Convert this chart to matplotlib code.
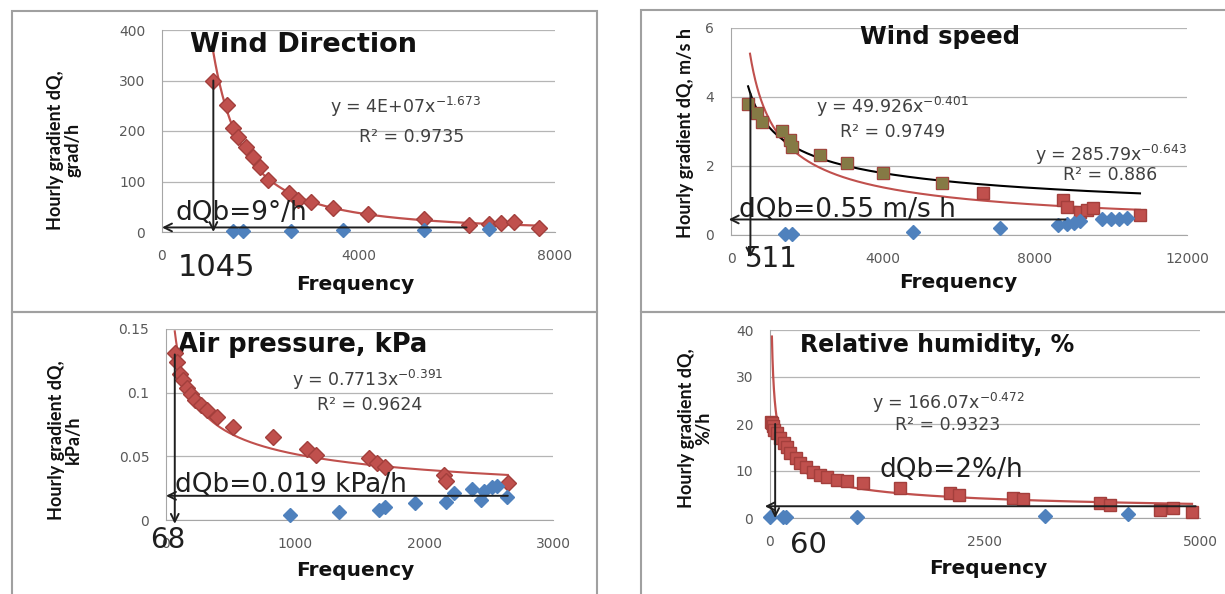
import matplotlib
matplotlib.use("Agg")
import matplotlib.pyplot as plt
from matplotlib.patches import Rectangle
import numpy as np

W, H = 1225, 594

# Wind direction
wd_red_x = [1045, 1330, 1453, 1555, 1700, 1862, 2005, 2150, 2580, 2760, 3030, 3480, 4190, 5340, 6240, 6650, 6910, 7160, 7670]
wd_red_y = [300, 252, 206, 188, 168, 148, 129, 103, 77, 64, 60, 48, 35, 25, 13, 16, 18, 20, 7]
wd_blue_x = [1453, 1657, 2619, 3683, 5340, 6650]
wd_blue_y = [2, 2, 2, 3, 4, 5]
wd_fit = (4e7, -1.673)

# Wind speed
ws_olive_x = [450, 684, 816, 1342, 1553, 1605, 2342, 3053, 4000, 5553]
ws_olive_y = [3.80, 3.53, 3.28, 3.00, 2.75, 2.55, 2.32, 2.09, 1.80, 1.51]
ws_red_x = [450, 684, 816, 1342, 1553, 1605, 2342, 3053, 4000, 5553, 6632, 8737, 8842, 9184, 9368, 9526, 10763]
ws_red_y = [3.80, 3.53, 3.28, 3.00, 2.75, 2.55, 2.32, 2.09, 1.80, 1.51, 1.22, 1.01, 0.81, 0.67, 0.72, 0.78, 0.58]
ws_blue_x = [1420, 1600, 4790, 7079, 8600, 8842, 9026, 9184, 9763, 10000, 10200, 10421]
ws_blue_y = [0.03, 0.03, 0.09, 0.20, 0.29, 0.33, 0.36, 0.40, 0.45, 0.45, 0.47, 0.50]
ws_fit_black = (49.926, -0.401)
ws_fit_red = (285.79, -0.643)

# Air pressure
ap_red_x = [68, 85, 110, 135, 163, 190, 225, 270, 318, 395, 520, 830, 1093, 1163, 1570, 1632, 1700, 2155, 2170, 2650]
ap_red_y = [0.131, 0.124, 0.115, 0.110, 0.104, 0.099, 0.094, 0.090, 0.086, 0.081, 0.073, 0.065, 0.056, 0.051, 0.049, 0.045, 0.042, 0.035, 0.031, 0.029]
ap_blue_x = [960, 1340, 1655, 1700, 1930, 2170, 2233, 2372, 2442, 2465, 2527, 2566, 2643]
ap_blue_y = [0.004, 0.006, 0.008, 0.010, 0.013, 0.014, 0.021, 0.024, 0.016, 0.023, 0.026, 0.027, 0.018]
ap_fit = (0.7713, -0.391)

# Relative humidity
rh_red_x = [10, 20, 35, 50, 81, 120, 160, 198, 233, 300, 349, 420, 500, 580, 663, 779, 900, 1081,
            1512, 2093, 2200, 2826, 2942, 3837, 3954, 4535, 4686, 4907]
rh_red_y = [20.5, 20.2, 19.5, 18.7, 18.0, 17.0, 16.0, 15.1, 13.8, 12.8, 11.7, 10.8, 9.8, 9.2, 8.7, 8.1, 7.8, 7.4,
            6.4, 5.3, 5.0, 4.3, 4.0, 3.2, 2.8, 1.7, 2.1, 1.3]
rh_blue_x = [0, 151, 190, 1012, 3198, 4163]
rh_blue_y = [0.2, 0.2, 0.2, 0.3, 0.5, 0.9]
rh_fit = (166.07, -0.472)

RED = "#C0504D"
RED_EDGE = "#A33F3C"
BLUE = "#4F81BD"
OLIVE = "#857A45"
GRID = "#B5B5B5"
TICK = "#595959"
INK = "#1F1F1F"


def px_box(x0, y0, x1, y1):
    return [x0 / W, 1 - y1 / H, (x1 - x0) / W, (y1 - y0) / H]


def style_axes(ax, xlim, xticks, ylim, yticks, yticklabels=None):
    ax.set_xlim(xlim)
    ax.set_ylim(ylim)
    ax.set_xticks(xticks)
    ax.set_yticks(yticks)
    if yticklabels is not None:
        ax.set_yticklabels(yticklabels)
    ax.yaxis.grid(True, color=GRID, lw=0.9)
    ax.set_axisbelow(True)
    for s in ("top", "right"):
        ax.spines[s].set_visible(False)
    for s in ("left", "bottom"):
        ax.spines[s].set_color("#A6A6A6")
    ax.tick_params(axis="both", length=0, labelsize=10, labelcolor=TICK, pad=12)
    ax.patch.set_alpha(0)


def power_curve(coef, x0, x1):
    # trendline drawn from the equation printed on the chart
    a, b = coef
    x = np.geomspace(x0, x1, 300)
    return x, a * x ** b


def arrow(ax, tail, tip):
    ax.annotate("", xy=tip, xytext=tail,
                arrowprops=dict(arrowstyle="->", color=INK, lw=1.4, shrinkA=0, shrinkB=0,
                                mutation_scale=14),
                annotation_clip=False, zorder=6)


def big_text(ax, x, y, s, size):
    ax.text(x, y, s, fontsize=size, color=INK, ha="left", va="center", clip_on=False, zorder=7)


def equation(ax, fx, fy, s):
    ax.text(fx, fy, s, transform=ax.transAxes, fontsize=12.5, color="#404040", ha="center", va="center")


def title(ax, fx, fy, s, size):
    ax.text(fx, fy, s, transform=ax.transAxes, fontsize=size, fontweight="bold",
            color="#111111", ha="left", va="center")


def ylabel(fig, x, y, s):
    fig.text(x / W, 1 - y / H, s, rotation=90, ha="center", va="center", family="Lato",
             fontweight="bold", fontsize=13, linespacing=1.05, color="#111111")


def xlabel(fig, x, y):
    fig.text(x / W, 1 - y / H, "Frequency", ha="center", va="center", fontweight="bold",
             fontsize=14.5, color="#111111")


fig = plt.figure(figsize=(W / 100, H / 100), dpi=100)
fig.patch.set_facecolor("white")

# chart frames
for x0, y0, x1, y1 in [(12, 11, 597, 312), (12, 312, 597, 610), (641, 10, 1240, 312), (641, 312, 1240, 610)]:
    fig.add_artist(Rectangle((x0 / W, 1 - y1 / H), (x1 - x0) / W, (y1 - y0) / H,
                             transform=fig.transFigure, fill=False, ec="#A0A0A0", lw=1.5))

# ---- Wind direction ----
ax1 = fig.add_axes(px_box(162, 30, 555, 232))
style_axes(ax1, (0, 8000), [0, 4000, 8000], (0, 400), [0, 100, 200, 300, 400])
tx, ty = power_curve(wd_fit, wd_red_x[0], wd_red_x[-1])
ax1.plot(tx, ty, color=RED, lw=1.6, zorder=3)
ax1.plot(wd_red_x, wd_red_y, "D", color=RED, mec=RED_EDGE, ms=8, zorder=4, clip_on=False)
ax1.plot(wd_blue_x, wd_blue_y, "D", color=BLUE, ms=7, zorder=4, clip_on=False)
arrow(ax1, (1045, 300), (1045, 0))
arrow(ax1, (6200, 9), (0, 9))
big_text(ax1, 265, 38, "dQb=9°/h", 19)
big_text(ax1, 326, -71, "1045", 22)
title(ax1, 0.071, 0.926, "Wind Direction", 19.5)
equation(ax1, 0.620, 0.619, "y = 4E+07x$^{-1.673}$")
equation(ax1, 0.635, 0.470, "R² = 0.9735")
ylabel(fig, 64, 150, "Hourly gradient dQ,\ngrad/h")
xlabel(fig, 355, 285)

# ---- Wind speed ----
ax2 = fig.add_axes(px_box(731, 28, 1187, 235))
style_axes(ax2, (0, 12000), [0, 4000, 8000, 12000], (0, 6), [0, 2, 4, 6])
tx, ty = power_curve(ws_fit_red, 500, ws_red_x[-1])
ax2.plot(tx, ty, color=RED, lw=1.5, zorder=3)
tx, ty = power_curve(ws_fit_black, ws_olive_x[0], ws_red_x[-1])
ax2.plot(tx, ty, color="black", lw=1.5, zorder=3)
ax2.plot(ws_red_x, ws_red_y, "s", color=RED, mec=RED_EDGE, ms=9, zorder=4, clip_on=False)
ax2.plot(ws_olive_x, ws_olive_y, "s", color=OLIVE, mec=OLIVE, ms=6.5, zorder=5, clip_on=False)
ax2.plot(ws_blue_x, ws_blue_y, "D", color=BLUE, ms=7, zorder=4, clip_on=False)
arrow(ax2, (511, 4.1), (511, -0.65))
arrow(ax2, (8800, 0.45), (-60, 0.45))
big_text(ax2, 200, 0.72, "dQb=0.55 m/s h", 19)
big_text(ax2, 360, -0.70, "511", 20)
title(ax2, 0.283, 0.957, "Wind speed", 17.5)
equation(ax2, 0.355, 0.618, "y = 49.926x$^{-0.401}$")
equation(ax2, 0.355, 0.498, "R² = 0.9749")
equation(ax2, 0.833, 0.386, "y = 285.79x$^{-0.643}$")
equation(ax2, 0.831, 0.290, "R² = 0.886")
ylabel(fig, 685, 133, "Hourly gradient dQ, m/s h")
xlabel(fig, 958, 283)

# ---- Air pressure ----
ax3 = fig.add_axes(px_box(166, 329, 553, 520))
style_axes(ax3, (0, 3000), [0, 1000, 2000, 3000], (0, 0.15), [0, 0.05, 0.1, 0.15],
           ["0", "0.05", "0.1", "0.15"])
tx, ty = power_curve(ap_fit, ap_red_x[0], ap_red_x[-1])
ax3.plot(tx, ty, color=RED, lw=1.5, zorder=3)
ax3.plot(ap_red_x, ap_red_y, "D", color=RED, mec=RED_EDGE, ms=8, zorder=4, clip_on=False)
ax3.plot(ap_blue_x, ap_blue_y, "D", color=BLUE, ms=7, zorder=4, clip_on=False)
arrow(ax3, (68, 0.13), (68, -0.003))
arrow(ax3, (2650, 0.019), (0, 0.019))
big_text(ax3, 70, 0.0275, "dQb=0.019 kPa/h", 19)
big_text(ax3, -124, -0.0157, "68", 20)
title(ax3, 0.031, 0.916, "Air pressure, kPa", 18.5)
equation(ax3, 0.522, 0.733, "y = 0.7713x$^{-0.391}$")
equation(ax3, 0.527, 0.602, "R² = 0.9624")
ylabel(fig, 65, 440, "Hourly gradient dQ,\nkPa/h")
xlabel(fig, 355, 570)

# ---- Relative humidity ----
ax4 = fig.add_axes(px_box(770, 330, 1200, 518))
style_axes(ax4, (0, 5000), [0, 2500, 5000], (0, 40), [0, 10, 20, 30, 40])
tx, ty = power_curve(rh_fit, 22, rh_red_x[-1])
ax4.plot(tx, ty, color=RED, lw=1.6, zorder=3)
ax4.plot(rh_red_x, rh_red_y, "s", color=RED, mec=RED_EDGE, ms=9, zorder=4, clip_on=False)
ax4.plot(rh_blue_x, rh_blue_y, "D", color=BLUE, ms=7, zorder=4, clip_on=False)
arrow(ax4, (60, 20), (60, 0))
arrow(ax4, (4950, 2.5), (-60, 2.5))
big_text(ax4, 1279, 10.2, "dQb=2%/h", 19)
big_text(ax4, 233, -5.7, "60", 21)
title(ax4, 0.07, 0.92, "Relative humidity, %", 17)
equation(ax4, 0.416, 0.612, "y = 166.07x$^{-0.472}$")
equation(ax4, 0.413, 0.495, "R² = 0.9323")
ylabel(fig, 695, 428, "Hourly gradient dQ,\n%/h")
xlabel(fig, 988, 568)

fig.savefig("out.png", dpi=100, facecolor="white")
